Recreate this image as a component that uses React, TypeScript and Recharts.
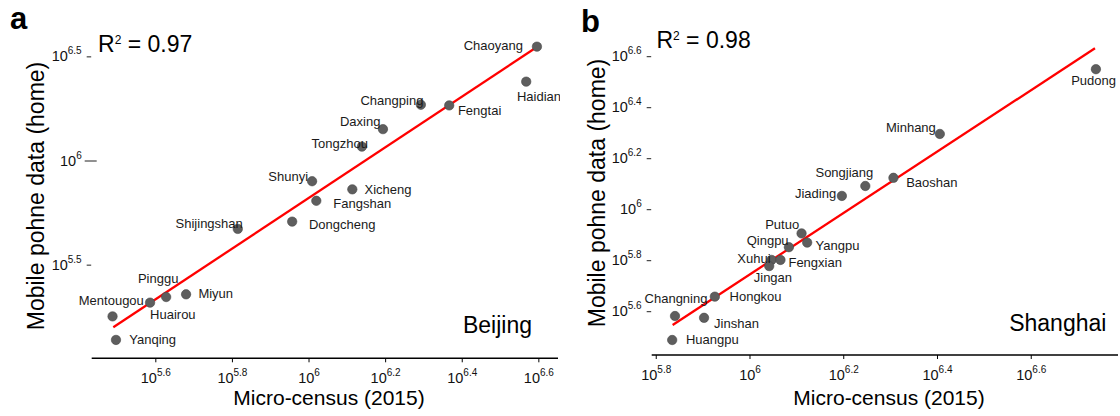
import { ReferenceLine, Scatter, ScatterChart, XAxis, YAxis } from "recharts";

const FONT = '"Liberation Sans", Arial, Helvetica, sans-serif';

// Beijing: log10 of district population
const bjDistricts = [
  "Chaoyang", "Haidian", "Changping", "Fengtai", "Daxing", "Tongzhou", "Shunyi", "Xicheng",
  "Fangshan", "Dongcheng", "Shijingshan", "Pinggu", "Miyun", "Huairou", "Mentougou", "Yanqing",
];
const bjCensus = [6.595, 6.567, 6.292, 6.366, 6.193, 6.138, 6.008, 6.113, 6.019, 5.956, 5.814, 5.627, 5.679, 5.585, 5.487, 5.496];
const bjMobile = [6.549, 6.381, 6.27, 6.267, 6.153, 6.069, 5.903, 5.864, 5.809, 5.709, 5.674, 5.347, 5.36, 5.32, 5.254, 5.141];
const bjFitX = [5.489, 6.594];
const bjFitY = [5.202, 6.546];
const bjXTicks = [5.6, 5.8, 6, 6.2, 6.4, 6.6];
const bjYTicks = [5.5, 6, 6.5];

// Shanghai
const shDistricts = [
  "Pudong", "Minhang", "Baoshan", "Songjiang", "Jiading", "Putuo", "Yangpu", "Qingpu",
  "Xuhui", "Fengxian", "Jingan", "Hongkou", "Changning", "Jinshan", "Huangpu",
];
const shCensus = [6.738, 6.405, 6.306, 6.246, 6.196, 6.11, 6.122, 6.083, 6.046, 6.065, 6.041, 5.925, 5.84, 5.902, 5.834];
const shMobile = [6.551, 6.297, 6.125, 6.093, 6.054, 5.907, 5.871, 5.853, 5.803, 5.803, 5.779, 5.659, 5.583, 5.576, 5.489];
const shFitX = [5.835, 6.736];
const shFitY = [5.548, 6.633];
const shXTicks = [5.8, 6, 6.2, 6.4, 6.6];
const shYTicks = [5.6, 5.8, 6, 6.2, 6.4, 6.6];

type Anchor = "start" | "middle" | "end";

// where each district name sits relative to its dot
const BJ_LABELS: Record<string, [Anchor, number, number]> = {
  Chaoyang: ["end", -14, 3.3],
  Haidian: ["start", -9.3, 19.3],
  Changping: ["end", 2.5, 0],
  Fengtai: ["start", 8.7, 9.7],
  Daxing: ["end", -2.5, -3],
  Tongzhou: ["end", 6, 1],
  Shunyi: ["end", -4, -0.6],
  Xicheng: ["start", 12.2, 4.7],
  Fangshan: ["start", 17, 7.5],
  Dongcheng: ["start", 16.7, 7],
  Shijingshan: ["end", 5, -0.7],
  Pinggu: ["middle", -8, -14.3],
  Miyun: ["start", 12.3, 4],
  Huairou: ["start", 0, 16.6],
  Mentougou: ["end", 31.3, -11.3],
  Yanqing: ["start", 13.3, 4.3],
};

const SH_LABELS: Record<string, [Anchor, number, number]> = {
  Pudong: ["middle", -2.3, 15.7],
  Minhang: ["end", -4, -1.7],
  Baoshan: ["start", 12.7, 9],
  Songjiang: ["end", 8, -9.3],
  Jiading: ["end", -5.7, 2.3],
  Putuo: ["end", -2.4, -4.3],
  Yangpu: ["start", 8.4, 7],
  Qingpu: ["end", -0.3, -2.3],
  Xuhui: ["end", -1, 3.3],
  Fengxian: ["start", 8, 7.3],
  Jingan: ["middle", 3.7, 15.7],
  Hongkou: ["start", 14.7, 4],
  Changning: ["middle", 1, -12.7],
  Jinshan: ["start", 10, 9.7],
  Huangpu: ["start", 13.7, 4],
};

function XPowerTick({ x, y, payload }: any) {
  return (
    <text x={x} y={y} textAnchor="middle" fontFamily={FONT} fontSize={14.5} fill="#111">
      <tspan dy={21} fontSize={14.5}>10</tspan>
      <tspan dy={-7.5} fontSize={10}>{String(payload.value)}</tspan>
    </text>
  );
}

function YPowerTick({ x, y, payload, longTick }: any) {
  const isLong = longTick !== undefined && payload.value === longTick;
  return (
    <g>
      <line x1={isLong ? x - 7 : x - 5} x2={isLong ? x + 5 : x - 0.5} y1={y} y2={y} stroke="#222" strokeWidth={1} />
      <text x={x - 10} y={y} textAnchor="end" fontFamily={FONT} fontSize={14.5} fill="#111">
        <tspan dy={4.6} fontSize={14.5}>10</tspan>
        <tspan dy={-7} fontSize={10}>{String(payload.value)}</tspan>
      </text>
    </g>
  );
}

function DotShape({ cx, cy }: any) {
  return <circle cx={cx} cy={cy} r={4.7} fill="#5e5e5e" stroke="#474747" strokeWidth={0.6} />;
}

function NameShape({ cx, cy, payload, labels }: any) {
  const [anchor, dx, dy] = labels[payload.name] ?? ["start", 8, 4];
  return (
    <text x={cx + dx} y={cy + dy} textAnchor={anchor} fontFamily={FONT} fontSize={13} fill="#1a1a1a">
      {payload.name}
    </text>
  );
}

type PanelProps = {
  letter: string;
  r2: string;
  city: string;
  names: string[];
  census: number[];
  mobile: number[];
  fitX: number[];
  fitY: number[];
  xTicks: number[];
  yTicks: number[];
  xDomain: [number, number];
  yDomain: [number, number];
  xAxisHeight: number;
  labels: Record<string, [Anchor, number, number]>;
  longTick?: number;
  letterPos: [number, number];
  r2Pos: [number, number];
  cityPos: [number, number];
  yTitleX: number;
  yTitleY: number;
};

function Panel(p: PanelProps) {
  const data = p.names.map((name, i) => ({ name, x: p.census[i], y: p.mobile[i] }));
  return (
    <div style={{ position: "relative", width: 560, height: 416 }}>
      <ScatterChart width={560} height={416} margin={{ top: 20, right: 2, bottom: 0, left: 0 }}>
        <XAxis
          type="number"
          dataKey="x"
          domain={p.xDomain}
          ticks={p.xTicks}
          interval={0}
          height={p.xAxisHeight}
          tickSize={4}
          tickMargin={0}
          axisLine={{ stroke: "#000", strokeWidth: 1.4 }}
          tickLine={{ stroke: "#000", strokeWidth: 1 }}
          tick={<XPowerTick />}
        />
        <YAxis
          type="number"
          dataKey="y"
          domain={p.yDomain}
          ticks={p.yTicks}
          interval={0}
          width={91.7}
          axisLine={false}
          tickLine={false}
          tickSize={0}
          tickMargin={0}
          tick={<YPowerTick longTick={p.longTick} />}
        />
        <Scatter data={data} isAnimationActive={false} shape={<DotShape />} />
        <Scatter data={data} isAnimationActive={false} shape={<NameShape labels={p.labels} />} />
        <ReferenceLine
          segment={[
            { x: p.fitX[0], y: p.fitY[0] },
            { x: p.fitX[1], y: p.fitY[1] },
          ]}
          stroke="#ff0000"
          strokeWidth={2.3}
        />
      </ScatterChart>
      <svg
        width={560}
        height={416}
        style={{ position: "absolute", left: 0, top: 0, pointerEvents: "none" }}
        fontFamily={FONT}
      >
        <text x={p.letterPos[0]} y={p.letterPos[1]} fontSize={31} fontWeight="bold" fill="#000">
          {p.letter}
        </text>
        <text x={p.r2Pos[0]} y={p.r2Pos[1]} fontSize={23} fill="#000">
          R<tspan dy={-8} fontSize={12}>2</tspan>
          <tspan dy={8}>{` = ${p.r2}`}</tspan>
        </text>
        <text x={p.cityPos[0]} y={p.cityPos[1]} fontSize={23} textAnchor="end" fill="#000">
          {p.city}
        </text>
        <text x={329} y={405} fontSize={21} textAnchor="middle" fill="#000">
          Micro-census (2015)
        </text>
        <text
          x={p.yTitleX}
          y={p.yTitleY}
          fontSize={23}
          textAnchor="middle"
          fill="#000"
          transform={`rotate(-90 ${p.yTitleX} ${p.yTitleY})`}
        >
          Mobile pohne data (home)
        </text>
      </svg>
    </div>
  );
}

export default function App() {
  return (
    <div style={{ position: "absolute", left: 0, top: 0, width: 1120, height: 416, display: "flex", background: "#fff" }}>
      <Panel
        letter="a"
        r2="0.97"
        city="Beijing"
        names={bjDistricts}
        census={bjCensus}
        mobile={bjMobile}
        fitX={bjFitX}
        fitY={bjFitY}
        xTicks={bjXTicks}
        yTicks={bjYTicks}
        xDomain={[5.4326, 6.65]}
        yDomain={[5.0528, 6.677]}
        xAxisHeight={57.7}
        labels={BJ_LABELS}
        longTick={6}
        letterPos={[10, 29]}
        r2Pos={[98, 51.7]}
        cityPos={[532, 333]}
        yTitleX={44}
        yTitleY={196}
      />
      <Panel
        letter="b"
        r2="0.98"
        city="Shanghai"
        names={shDistricts}
        census={shCensus}
        mobile={shMobile}
        fitX={shFitX}
        fitY={shFitY}
        xTicks={shXTicks}
        yTicks={shYTicks}
        xDomain={[5.7903, 6.7851]}
        yDomain={[5.4302, 6.7439]}
        xAxisHeight={61}
        labels={SH_LABELS}
        letterPos={[21, 32]}
        r2Pos={[96.4, 48.3]}
        cityPos={[546.4, 331.3]}
        yTitleX={45}
        yTitleY={193}
      />
    </div>
  );
}
